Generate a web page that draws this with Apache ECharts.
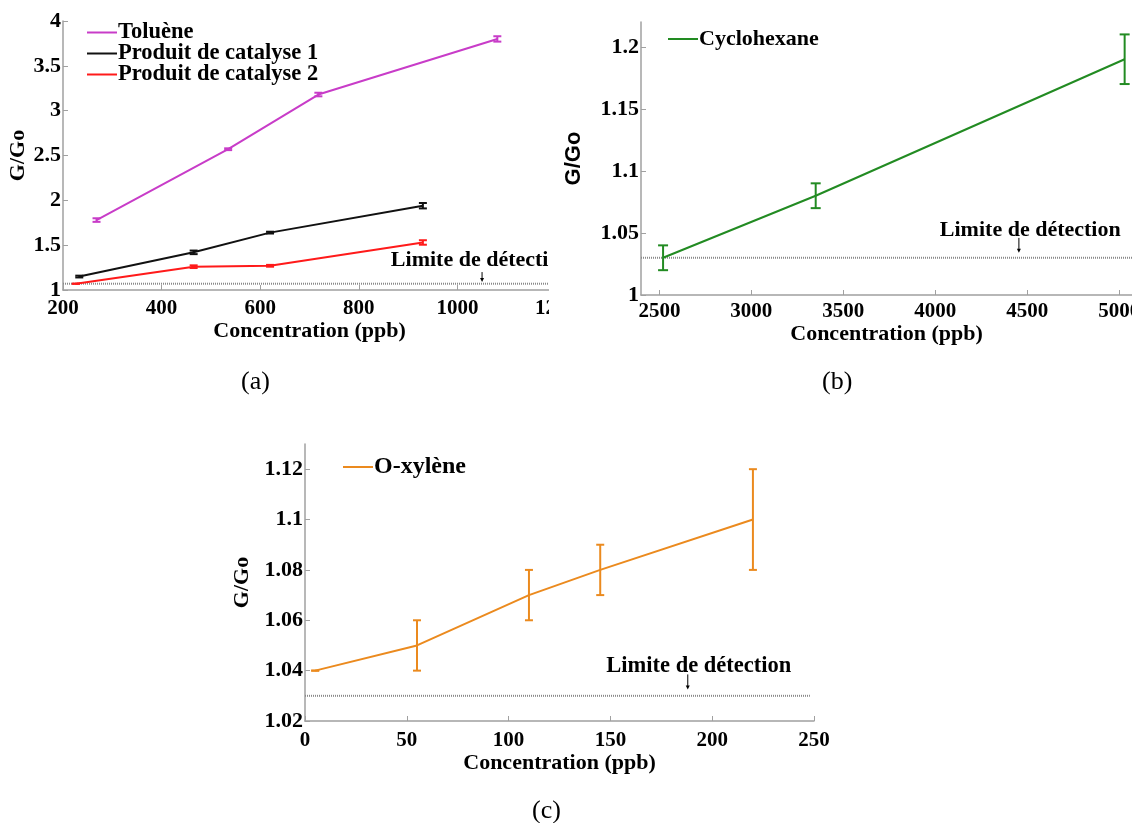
<!DOCTYPE html>
<html><head><meta charset="utf-8">
<script src="https://cdn.jsdelivr.net/npm/echarts@6/dist/echarts.min.js"></script>
<style>html,body{margin:0;padding:0;background:#fff}#c{width:1132px;height:823px}</style>
</head><body><div id="c"></div>
<script>
// ---------- Panel (a) ----------
const tolueneX = [268, 535, 718, 1081];
const tolueneY = [1.78, 2.57, 3.18, 3.80];
const tolueneErr = [0.02, 0.01, 0.02, 0.03];
const cat1X = [233, 465, 620, 930];
const cat1Y = [1.15, 1.42, 1.64, 1.94];
const cat1Err = [0.01, 0.02, 0.01, 0.03];
const cat2X = [226, 465, 620, 930];
const cat2Y = [1.07, 1.26, 1.27, 1.53];
const cat2Err = [0, 0.015, 0.01, 0.025];
const aXTicks = [200, 400, 600, 800, 1000, 1200];
const aYTicks = [1, 1.5, 2, 2.5, 3, 3.5, 4];
const aLimit = 1.07;
const aNote = [865, 1.33];
const aArrow = [1050, 1.20, 1.09];
// ---------- Panel (b) ----------
const cycloX = [2520, 3350, 5030];
const cycloY = [1.03, 1.08, 1.19];
const cycloErr = [0.01, 0.01, 0.02];
const bXTicks = [2500, 3000, 3500, 4000, 4500, 5000];
const bYTicks = [1, 1.05, 1.1, 1.15, 1.2];
const bLimit = 1.03;
const bNote = [4025, 1.0525];
const bArrow = [4455, 1.046, 1.034];
// ---------- Panel (c) ----------
const xylX = [5, 55, 110, 145, 220];
const xylY = [1.04, 1.05, 1.07, 1.08, 1.10];
const xylErr = [0, 0.01, 0.01, 0.01, 0.02];
const cXTicks = [0, 50, 100, 150, 200, 250];
const cYTicks = [1.02, 1.04, 1.06, 1.08, 1.1, 1.12];
const cLimit = 1.03;
const cNote = [148, 1.0418];
const cArrow = [188, 1.0385, 1.0325];

const names = ['Toluène', 'Produit de catalyse 1', 'Produit de catalyse 2', 'Cyclohexane', 'O-xylène'];
const limitLabel = 'Limite de détection';
const xTitle = 'Concentration (ppb)';
const yTitle = 'G/Go';
const panelLabels = ['(a)', '(b)', '(c)'];

const SERIF = '"Liberation Serif","Times New Roman",serif';
const SANS = '"Liberation Sans",Arial,sans-serif';
const AXC = '#a0a0a0';
const C_TOL = '#C83CC8', C_C1 = '#111111', C_C2 = '#FF1A1A', C_CY = '#228B22', C_XY = '#EB8A1E';

const ranges = {
  a: {x: [200, 1200], y: [1, 4]},
  b: {x: [2400, 5070], y: [1, 1.22]},
  c: {x: [0, 250], y: [1.02, 1.13]}
};

function zip3(xs, ys, es) { return xs.map((x, i) => [x, ys[i], es[i]]); }
function zip2(xs, ys) { return xs.map((x, i) => [x, ys[i]]); }

function xAx(gi, r, ticks, gap, margin) {
  return {
    type: 'value', gridIndex: gi, min: r[0], max: r[1],
    axisLine: {show: true, onZero: false, lineStyle: {color: AXC, width: 1.5}},
    axisTick: {show: true, inside: true, length: 5, lineStyle: {color: AXC, width: 1}, customValues: ticks},
    axisLabel: {customValues: ticks, margin, color: '#000', fontSize: 21, fontWeight: 'bold', fontFamily: SERIF, formatter: v => String(v)},
    splitLine: {show: false},
    name: xTitle, nameLocation: 'middle', nameGap: gap,
    nameTextStyle: {color: '#000', fontSize: 22, fontWeight: 'bold', fontFamily: SERIF}
  };
}
function yAx(gi, r, ticks, gap, fam) {
  return {
    type: 'value', gridIndex: gi, min: r[0], max: r[1],
    axisLine: {show: true, onZero: false, lineStyle: {color: AXC, width: 1.5}},
    axisTick: {show: true, inside: true, length: 5, lineStyle: {color: AXC, width: 1}, customValues: ticks},
    axisLabel: {customValues: ticks, margin: 2, color: '#000', fontSize: 22, fontWeight: 'bold', fontFamily: SERIF, formatter: v => String(v)},
    splitLine: {show: false},
    name: yTitle, nameLocation: 'middle', nameGap: gap, nameRotate: 90,
    nameTextStyle: {color: '#000', fontSize: 22, fontWeight: 'bold', fontFamily: fam}
  };
}

function errRender(capHalf, color, width) {
  return function (params, api) {
    const x = api.value(0), y = api.value(1), e = api.value(2);
    const t = api.coord([x, y + e]), b = api.coord([x, y - e]);
    const style = {stroke: color, lineWidth: width};
    return {type: 'group', children: [
      {type: 'line', shape: {x1: t[0], y1: t[1], x2: b[0], y2: b[1]}, style},
      {type: 'line', shape: {x1: t[0] - capHalf, y1: t[1], x2: t[0] + capHalf, y2: t[1]}, style},
      {type: 'line', shape: {x1: b[0] - capHalf, y1: b[1], x2: b[0] + capHalf, y2: b[1]}, style}
    ]};
  };
}
function lineSeries(name, gi, data, color) {
  return {type: 'line', name, xAxisIndex: gi, yAxisIndex: gi, data, symbol: 'none',
    lineStyle: {color, width: 2}, itemStyle: {color}, silent: true, z: 3};
}
function errSeries(gi, data, cap, color) {
  return {type: 'custom', xAxisIndex: gi, yAxisIndex: gi, data, renderItem: errRender(cap, color, 2), silent: true, z: 4};
}
function limitSeries(gi, r, v) {
  return {type: 'line', xAxisIndex: gi, yAxisIndex: gi, data: [[r[0], v], [r[1], v]], symbol: 'none',
    lineStyle: {color: '#8a8a8a', width: 2, type: [1, 1]}, silent: true, z: 2};
}
function noteSeries(gi, note, arrow, fs) {
  return {type: 'custom', xAxisIndex: gi, yAxisIndex: gi, data: [[note[0], note[1], arrow[0], arrow[1], arrow[2]]], silent: true, z: 5,
    renderItem: function (params, api) {
      const p = api.coord([api.value(0), api.value(1)]);
      const a1 = api.coord([api.value(2), api.value(3)]);
      const a2 = api.coord([api.value(2), api.value(4)]);
      return {type: 'group', children: [
        {type: 'text', x: p[0], y: p[1], style: {text: limitLabel, fill: '#000', font: 'bold ' + fs + 'px ' + SERIF, textAlign: 'left', textVerticalAlign: 'middle'}},
        {type: 'line', shape: {x1: a1[0], y1: a1[1], x2: a2[0], y2: a2[1] - 3}, style: {stroke: '#000', lineWidth: 1}},
        {type: 'polygon', shape: {points: [[a2[0] - 2, a2[1] - 4], [a2[0] + 2, a2[1] - 4], [a2[0], a2[1]]]}, style: {fill: '#000'}}
      ]};
    }};
}

function legendFor(data, left, top, fs, gap) {
  return {data, left, top, orient: 'vertical', icon: 'rect', itemWidth: 30, itemHeight: 2, itemGap: gap,
    textStyle: {color: '#000', fontSize: fs, fontWeight: 'bold', fontFamily: SERIF, padding: [0, 0, 0, -4]},
    selectedMode: false, padding: 0};
}

const option = {
  animation: false,
  backgroundColor: '#fff',
  grid: [
    {left: 63, top: 21, width: 493, height: 269, outerBoundsMode: 'none'},
    {left: 641, top: 22, width: 491, height: 273, outerBoundsMode: 'none'},
    {left: 305, top: 444, width: 509, height: 277, outerBoundsMode: 'none'}
  ],
  xAxis: [xAx(0, ranges.a.x, aXTicks, 21, 8), xAx(1, ranges.b.x, bXTicks, 15, 6), xAx(2, ranges.c.x, cXTicks, 21, 9)],
  yAxis: [yAx(0, ranges.a.y, aYTicks, 34, SERIF), yAx(1, ranges.b.y, bYTicks, 56, SANS), yAx(2, ranges.c.y, cYTicks, 52, SERIF)],
  legend: [
    legendFor(names.slice(0, 3), 87, 21, 22.5, -2),
    legendFor([names[3]], 668, 28, 22, 0),
    legendFor([names[4]], 343, 455, 24, 0)
  ],
  series: [
    limitSeries(0, ranges.a.x, aLimit),
    lineSeries(names[0], 0, zip2(tolueneX, tolueneY), C_TOL),
    lineSeries(names[1], 0, zip2(cat1X, cat1Y), C_C1),
    lineSeries(names[2], 0, zip2(cat2X, cat2Y), C_C2),
    errSeries(0, zip3(tolueneX, tolueneY, tolueneErr), 4, C_TOL),
    errSeries(0, zip3(cat1X, cat1Y, cat1Err), 4, C_C1),
    errSeries(0, zip3(cat2X, cat2Y, cat2Err), 4, C_C2),
    noteSeries(0, aNote, aArrow, 22),

    limitSeries(1, ranges.b.x, bLimit),
    lineSeries(names[3], 1, zip2(cycloX, cycloY), C_CY),
    errSeries(1, zip3(cycloX, cycloY, cycloErr), 5, C_CY),
    noteSeries(1, bNote, bArrow, 22),

    limitSeries(2, [ranges.c.x[0], 248], cLimit),
    lineSeries(names[4], 2, zip2(xylX, xylY), C_XY),
    errSeries(2, zip3(xylX, xylY, xylErr), 4, C_XY),
    noteSeries(2, cNote, cArrow, 22.5)
  ],
  graphic: [
    {type: 'rect', left: 549, top: 225, shape: {width: 50, height: 120}, style: {fill: '#fff'}, z: 100},
    {type: 'text', left: 241, top: 369, style: {text: panelLabels[0], font: '26px ' + SERIF, fill: '#000'}},
    {type: 'text', left: 822, top: 369, style: {text: panelLabels[1], font: '26px ' + SERIF, fill: '#000'}},
    {type: 'text', left: 532, top: 798, style: {text: panelLabels[2], font: '26px ' + SERIF, fill: '#000'}}
  ]
};
const chart = echarts.init(document.getElementById('c'), null, {renderer: 'canvas'});
chart.setOption(option);
</script></body></html>
